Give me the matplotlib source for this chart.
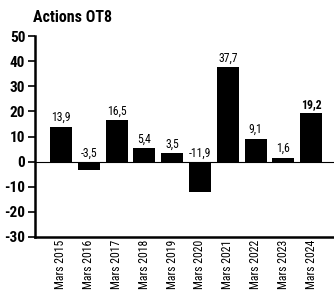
import matplotlib.pyplot as plt
import numpy as np

# Data
years = ["Mars 2015", "Mars 2016", "Mars 2017", "Mars 2018", "Mars 2019",
         "Mars 2020", "Mars 2021", "Mars 2022", "Mars 2023", "Mars 2024"]
values = [13.9, -3.5, 16.5, 5.4, 3.5, -11.9, 37.7, 9.1, 1.6, 19.2]
yticks = [-30, -20, -10, 0, 10, 20, 30, 40, 50]

FONT = ["Liberation Sans Narrow", "Roboto Condensed", "DejaVu Sans"]
plt.rcParams["font.family"] = FONT
plt.rcParams["font.stretch"] = "condensed"

fig = plt.figure(figsize=(3.34, 2.99), dpi=100)
ax = fig.add_axes([35 / 334, 62 / 299, 1 - 35 / 334, (263 - 62) / 299])

x = np.arange(len(values))
ax.bar(x, values, width=0.79, color="black", zorder=2)
ax.axhline(0, color="black", lw=0.8, zorder=1)

for i, v in enumerate(values):
    txt = f"{v:.1f}".replace(".", ",")
    weight = "bold" if i == len(values) - 1 else "normal"
    if v >= 0:
        ax.text(i, v + 1.0, txt, ha="center", va="bottom", fontsize=8.5,
                fontweight=weight, zorder=3)
    else:
        ax.text(i, 0.6, txt, ha="center", va="bottom", fontsize=8.5,
                fontweight=weight, zorder=3,
                bbox=dict(facecolor="white", edgecolor="none", pad=0.5))

ax.set_xlim(-0.935, 9.82)
ax.set_ylim(-30, 50)
ax.set_yticks(yticks)
ax.set_yticklabels([str(t) for t in yticks], fontsize=11, fontweight="bold")
ax.set_xticks(x)
ax.set_xticklabels(years, rotation=90, fontsize=8.5)
ax.tick_params(axis="x", length=0, pad=2)
ax.tick_params(axis="y", length=5, width=1.2, pad=2)

for s in ["top", "right"]:
    ax.spines[s].set_visible(False)
ax.spines["left"].set_linewidth(1.8)
ax.spines["bottom"].set_linewidth(1.8)

fig.text(33 / 334, 1 - 17 / 299, "Actions OT8", fontsize=11.5, fontweight="bold",
         ha="left", va="center")

fig.savefig("out.png", dpi=100)
